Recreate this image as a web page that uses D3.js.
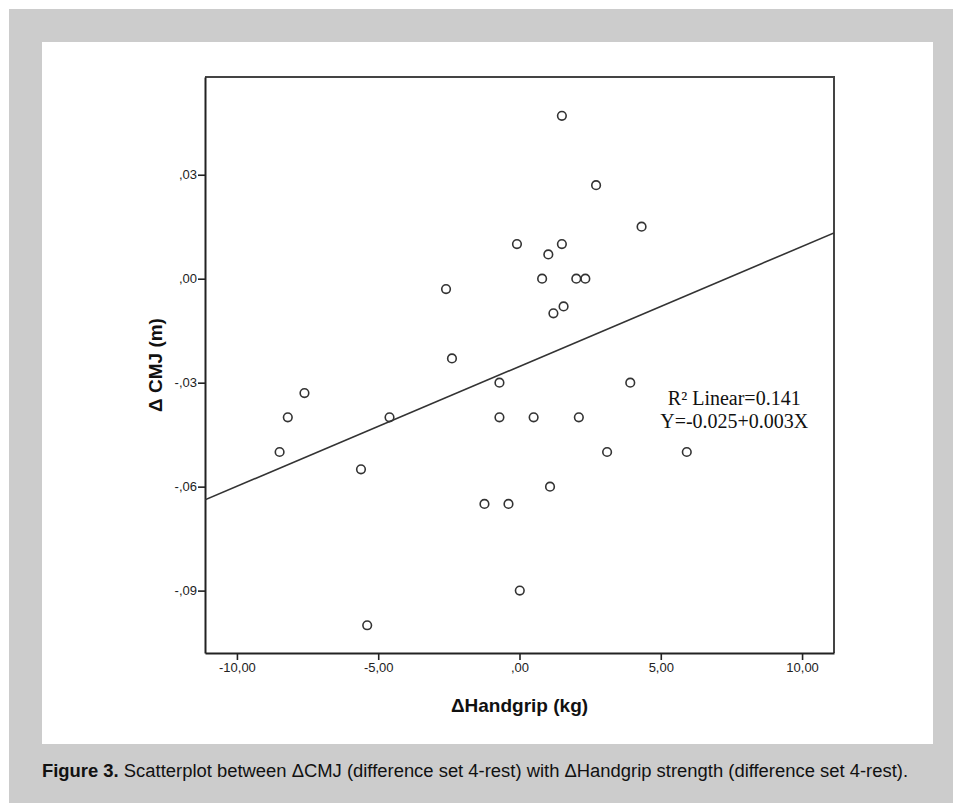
<!DOCTYPE html>
<html>
<head>
<meta charset="utf-8">
<script src="https://cdn.jsdelivr.net/npm/d3@7"></script>
<style>
  body { margin: 0; background: #fff; }
  svg { display: block; }
</style>
</head>
<body>
<div id="chart"></div>
<script>
// ΔHandgrip (kg) vs ΔCMJ (m), difference set 4-rest
const handgrip = [1.50, 2.71, 4.32, -0.09, 1.50, 1.02, 0.80, 2.01, 2.33, -2.60,
                  1.56, 1.20, -2.39, -0.71, 3.92, -7.61, -8.20, -4.60, -0.71, 0.50,
                  2.10, -8.49, 3.10, 5.92, -5.61, 1.08, -1.24, -0.39, 0.01, -5.39];
const cmj = [0.047, 0.027, 0.015, 0.010, 0.010, 0.007, 0.000, 0.000, 0.000, -0.003,
             -0.008, -0.010, -0.023, -0.030, -0.030, -0.033, -0.040, -0.040, -0.040, -0.040,
             -0.040, -0.050, -0.050, -0.050, -0.055, -0.060, -0.065, -0.065, -0.090, -0.100];

const xTicks = [-10, -5, 0, 5, 10];
const yTicks = [0.03, 0, -0.03, -0.06, -0.09];

// linear fit
const fitIntercept = -0.0253;
const fitSlope = 0.00346;
const rSquared = 0.141;

const width = 953, height = 803;
const plot = { left: 205, top: 77, right: 834, bottom: 653 };

const svg = d3.select("#chart").append("svg")
    .attr("width", width)
    .attr("height", height);

// page background + white panel
svg.append("rect").attr("x", 9).attr("y", 9)
    .attr("width", width - 9).attr("height", height - 9)
    .attr("fill", "#cccccc");
svg.append("rect").attr("x", 42).attr("y", 42)
    .attr("width", 891).attr("height", 702)
    .attr("fill", "#ffffff");

const x = d3.scaleLinear().domain([-11.13, 11.13]).range([plot.left, plot.right]);
const y = d3.scaleLinear().domain([-0.108, 0.0582]).range([plot.bottom, plot.top]);

// plain hyphen for negatives
const locale = d3.formatLocale({ decimal: ".", thousands: "", grouping: [3], currency: ["", ""], minus: "-" });
const f2 = locale.format(".2f");
const fmt3 = locale.format(".3f");

// SPSS style numbers: ",03", "-10,00"
const spss = d => f2(d).replace(".", ",").replace(/^(-?)0,/, "$1,");

// frame (top and right)
svg.append("path")
    .attr("d", `M${plot.left},${plot.top}H${plot.right}V${plot.bottom}`)
    .attr("fill", "none")
    .attr("stroke", "#444")
    .attr("stroke-width", 2);

const xAxis = svg.append("g")
    .attr("transform", `translate(0,${plot.bottom})`)
    .call(d3.axisBottom(x).tickValues(xTicks).tickFormat(spss).tickSize(7).tickSizeOuter(0).tickPadding(3));

const yAxis = svg.append("g")
    .attr("transform", `translate(${plot.left},0)`)
    .call(d3.axisLeft(y).tickValues(yTicks).tickFormat(spss).tickSize(7).tickSizeOuter(0).tickPadding(1));

[xAxis, yAxis].forEach(g => {
    g.select(".domain").attr("stroke", "#222").attr("stroke-width", 2);
    g.selectAll(".tick line").attr("stroke", "#222").attr("stroke-width", 1.6);
    g.selectAll(".tick text")
        .attr("fill", "#222")
        .style("font-family", "'Liberation Sans', Arial, sans-serif")
        .style("font-size", "13px");
});

// clip for the fit line
svg.append("clipPath").attr("id", "plot-clip")
    .append("rect")
    .attr("x", plot.left).attr("y", plot.top)
    .attr("width", plot.right - plot.left).attr("height", plot.bottom - plot.top);

const xDom = x.domain();
svg.append("line")
    .attr("clip-path", "url(#plot-clip)")
    .attr("x1", x(xDom[0])).attr("y1", y(fitIntercept + fitSlope * xDom[0]))
    .attr("x2", x(xDom[1])).attr("y2", y(fitIntercept + fitSlope * xDom[1]))
    .attr("stroke", "#333")
    .attr("stroke-width", 1.6);

svg.append("g")
    .selectAll("circle")
    .data(handgrip.map((h, i) => [h, cmj[i]]))
    .enter().append("circle")
    .attr("cx", d => x(d[0]))
    .attr("cy", d => y(d[1]))
    .attr("r", 4.3)
    .attr("fill", "none")
    .attr("stroke", "#333")
    .attr("stroke-width", 1.6);

// fit annotation
const note = svg.append("g")
    .attr("text-anchor", "middle")
    .style("font-family", "'Liberation Serif', 'Times New Roman', serif")
    .style("font-size", "20px")
    .attr("fill", "#111");
note.append("text").attr("x", x(7.6)).attr("y", y(-0.0365))
    .text(`R² Linear=${fmt3(rSquared)}`);
note.append("text").attr("x", x(7.6)).attr("y", y(-0.0365) + 23)
    .text(`Y=${fmt3(fitIntercept)}+${fmt3(fitSlope)}X`);

// axis titles
const titleFont = "'Liberation Sans', Arial, sans-serif";
svg.append("text")
    .attr("x", (plot.left + plot.right) / 2)
    .attr("y", 712)
    .attr("text-anchor", "middle")
    .style("font-family", titleFont)
    .style("font-size", "19px")
    .style("font-weight", "bold")
    .attr("fill", "#111")
    .text("ΔHandgrip (kg)");

svg.append("text")
    .attr("transform", `translate(162,${(plot.top + plot.bottom) / 2}) rotate(-90)`)
    .attr("text-anchor", "middle")
    .style("font-family", titleFont)
    .style("font-size", "19px")
    .style("font-weight", "bold")
    .attr("fill", "#111")
    .text("Δ CMJ (m)");

// caption, squeezed to its line width
const caption = svg.append("text")
    .attr("x", 42)
    .attr("y", 777)
    .attr("textLength", 866)
    .attr("lengthAdjust", "spacingAndGlyphs")
    .style("font-family", "'Liberation Sans Narrow', 'Arial Narrow', 'Liberation Sans', sans-serif")
    .style("font-size", "18px")
    .attr("fill", "#111");
caption.append("tspan").style("font-weight", "bold").text("Figure 3.");
caption.append("tspan")
    .text(" Scatterplot between ΔCMJ (difference set 4-rest) with ΔHandgrip strength (difference set 4-rest).");
</script>
</body>
</html>
